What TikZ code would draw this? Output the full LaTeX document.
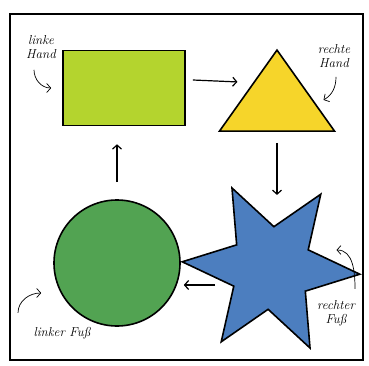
\documentclass[tikz,border=0pt]{standalone}
\usetikzlibrary{arrows.meta,shapes.geometric}
\definecolor{limeg}{HTML}{B4D42E}
\definecolor{yellowt}{HTML}{F6D52A}
\definecolor{bluest}{HTML}{4C7EBF}
\definecolor{greenc}{HTML}{52A352}
\begin{document}
\begin{tikzpicture}[x=1pt,y=-1pt,>={Straight Barb[length=4pt,width=9pt]},
  shp/.style={draw,line width=1.6pt,inner sep=0pt},
  arr/.style={->,line width=1.2pt},
  hint/.style={->,line width=0.7pt},
  lbl/.style={font=\fontsize{13}{14}\selectfont\itshape,align=center,inner sep=1pt}]
\useasboundingbox (0,0) rectangle (369,366);
\draw[line width=1.8pt] (10,14) rectangle (363,360);
% the four shapes
\node[shp,fill=limeg,minimum width=122pt,minimum height=75pt] (rect) at (124,88) {};
\node[shp,fill=yellowt,isosceles triangle,shape border rotate=90,isosceles triangle stretches,
  minimum width=115pt,minimum height=81pt,anchor=apex] (tri) at (277,48) {};
\node[shp,fill=bluest,star,star points=6,star point ratio=2.15,shape border rotate=26,
  minimum size=178pt] (star) at (271,268) {};
\node[shp,fill=greenc,circle,minimum size=126pt] (circ) at (117,263) {};
% labels
\node[lbl] (lh) at (41,47) {linke\\Hand};
\node[lbl] (rh) at (334,56) {rechte\\Hand};
\node[lbl] (rf) at (336,313) {rechter\\Fuß};
\node[lbl] (lf) at (62,333) {linker Fuß};
% main arrows
\draw[arr] ([xshift=7pt,yshift=8pt]rect.east) -- ([xshift=-10pt,yshift=8pt]tri.left side);
\draw[arr,shorten >=28pt] ([yshift=-11pt]tri.lower side) -- (tri.lower side |- star.north);
\draw[arr,shorten <=56pt,shorten >=3pt] ([yshift=-22pt]circ.east -| star.center) -- ([yshift=-22pt]circ.east);
\draw[arr,shorten >=18pt] ([yshift=17pt]circ.north) -- (circ.north |- rect.south);
% hints
\draw[hint] ([xshift=-7pt,yshift=-10pt]lh.south) to[out=-90,in=180] ([xshift=-11pt]rect.west);
\draw[hint] ([xshift=2pt,yshift=-8pt]rh.south) to[out=-90,in=30] ([xshift=17pt,yshift=-10pt]tri.right side);
\draw[hint] ([xshift=19pt,yshift=10pt]rf.north) to[out=90,in=0] ([xshift=-12pt,yshift=18pt]star.east);
\draw[hint] ([xshift=-44pt,yshift=13pt]lf.north) to[out=90,in=180] ([xshift=-12pt,yshift=-30pt]circ.west);
\end{tikzpicture}
\end{document}
